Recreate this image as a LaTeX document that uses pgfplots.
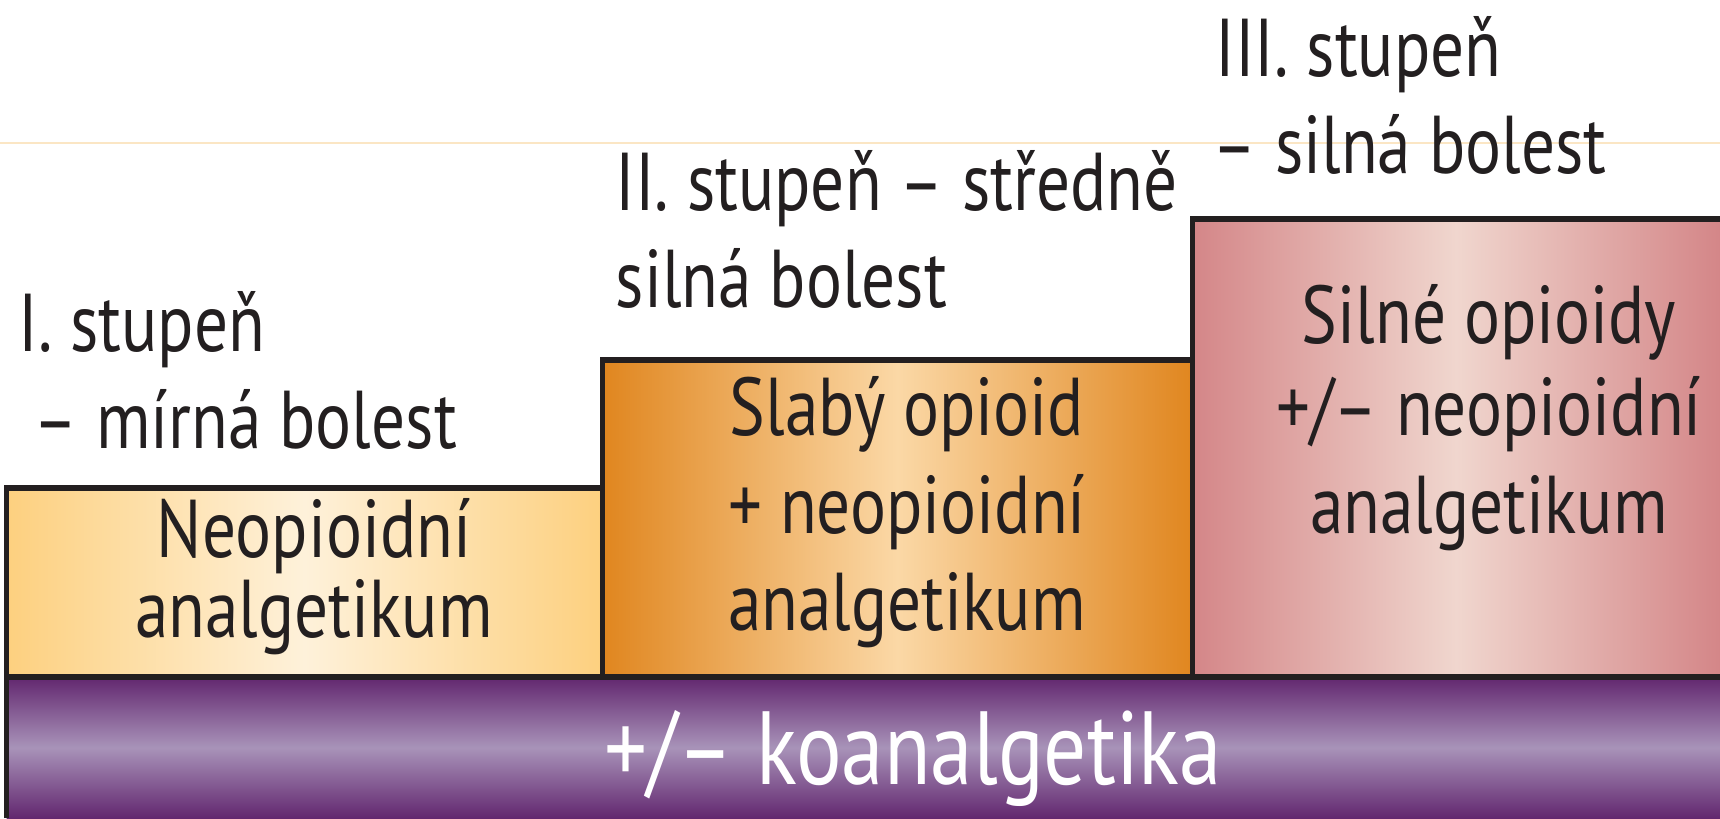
\documentclass[border=0pt]{standalone}
\usepackage{fontspec}
\setmainfont{PT Sans}[FakeStretch=0.82]
\usepackage{pgfplots}
\pgfplotsset{compat=1.18}
\definecolor{ink}{HTML}{231F20}
\definecolor{faint}{HTML}{FBE6C4}
\definecolor{yEdge}{HTML}{FDD07F}
\definecolor{yMid}{HTML}{FEF1DA}
\definecolor{oEdge}{HTML}{E0861F}
\definecolor{oMid}{HTML}{FBD8A6}
\definecolor{rEdge}{HTML}{D48688}
\definecolor{rMid}{HTML}{F0D6CE}
\definecolor{pDark}{HTML}{62276F}
\definecolor{pLight}{HTML}{A893B9}
\tikzset{lab/.style={inner sep=0pt, text=ink, font=\fontsize{20.5}{25}\selectfont}}
\begin{document}
\begin{tikzpicture}
\begin{axis}[width=430pt, height=204.5pt, scale only axis,
  xmin=0, xmax=1720, ymin=0, ymax=818, hide axis, clip=false]
% faint guide line
\addplot[color=faint, line width=0.3pt, mark=none] coordinates {(0,675) (1720,675)};
% steps (fills)
\addplot[draw=none, mark=none, left color=yEdge, right color=yEdge, middle color=yMid]
  coordinates {(6.5,141) (602.5,141) (602.5,330) (6.5,330)} -- cycle;
\addplot[draw=none, mark=none, left color=oEdge, right color=oEdge, middle color=oMid]
  coordinates {(602.5,141) (1192.5,141) (1192.5,458) (602.5,458)} -- cycle;
\addplot[draw=none, mark=none, left color=rEdge, right color=rEdge, middle color=rMid]
  coordinates {(1192.5,141) (1720,141) (1720,599) (1192.5,599)} -- cycle;
\addplot[draw=none, mark=none, top color=pDark, bottom color=pDark, middle color=pLight]
  coordinates {(6.5,0) (1720,0) (1720,141) (6.5,141)} -- cycle;
% outlines
\addplot[color=ink, line width=1.4pt, mark=none, line join=miter]
  coordinates {(6.5,0) (6.5,330) (602.5,330) (602.5,458) (1192.5,458) (1192.5,599) (1720,599)};
\addplot[color=ink, line width=1.4pt, mark=none] coordinates {(602.5,141) (602.5,330)};
\addplot[color=ink, line width=1.4pt, mark=none] coordinates {(1192.5,141) (1192.5,458)};
\addplot[color=ink, line width=1.4pt, mark=none] coordinates {(6.5,141) (1720,141)};
% headers
\node[lab, anchor=base west] at (axis cs:18,467) {I. stupeň};
\node[lab, anchor=base west] at (axis cs:33,370) {– mírná bolest};
\node[lab, anchor=base west] at (axis cs:615,608) {II. stupeň – středně};
\node[lab, anchor=base west] at (axis cs:615,511) {silná bolest};
\node[lab, anchor=base west] at (axis cs:1215,742) {III. stupeň};
\node[lab, anchor=base west] at (axis cs:1212,645) {– silná bolest};
% box texts
\node[lab, anchor=base] at (axis cs:314,261) {Neopioidní};
\node[lab, anchor=base] at (axis cs:314,181) {analgetikum};
\node[lab, anchor=base] at (axis cs:907,383) {Slabý opioid};
\node[lab, anchor=base] at (axis cs:907,285) {+ neopioidní};
\node[lab, anchor=base] at (axis cs:907,188) {analgetikum};
\node[lab, anchor=base] at (axis cs:1489,475) {Silné opioidy};
\node[lab, anchor=base] at (axis cs:1489,383) {+/– neopioidní};
\node[lab, anchor=base] at (axis cs:1489,285) {analgetikum};
\node[lab, anchor=base, text=white, font=\fontsize{26}{31}\selectfont] at (axis cs:913,34) {+/– koanalgetika};
\end{axis}
\pgfresetboundingbox
\path[use as bounding box] (current axis.south west) rectangle (current axis.north east);
\end{tikzpicture}
\end{document}
